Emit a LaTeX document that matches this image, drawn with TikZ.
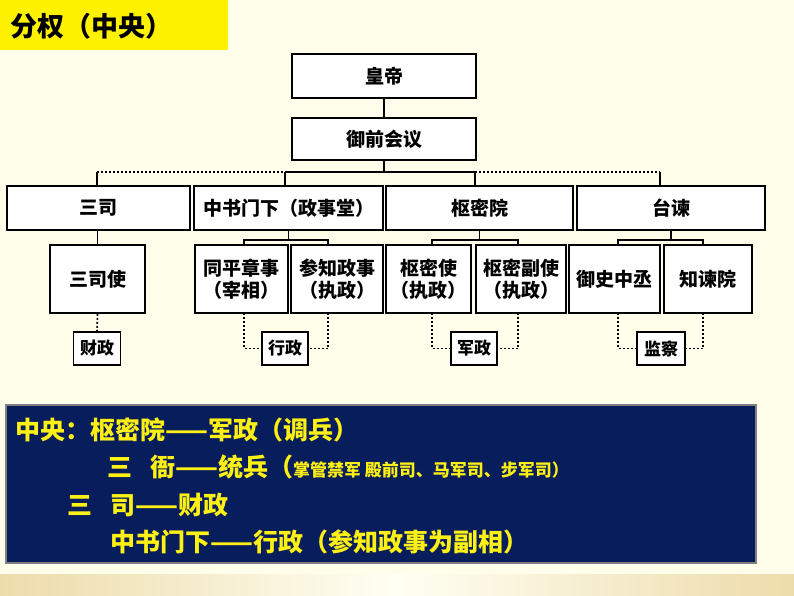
\documentclass[tikz,border=0pt]{standalone}
\usepackage{fontspec}
\setmainfont{Noto Sans CJK SC}
\begin{document}
\begin{tikzpicture}[x=1pt,y=-1pt,
  bx/.style={draw=black,line width=1.6pt,fill=white,inner sep=0pt,font=\fontsize{19}{22}\selectfont\bfseries,align=center},
  sm/.style={draw=black,line width=1.3pt,fill=white,inner sep=0pt,font=\fontsize{17}{20}\selectfont\bfseries},
  ln/.style={line width=1.4pt},
  dt/.style={line width=1.6pt,dash pattern=on 2pt off 2pt},
  yt/.style={text={rgb,255:red,255;green,240;blue,20},anchor=west,inner sep=0pt,font=\fontsize{25}{28}\selectfont\bfseries}]
\useasboundingbox (0,0) rectangle (794,596);
\fill[yellow!8!white] (0,0) rectangle (794,596);
\shade[left color=yellow!30!brown!40, right color=yellow!30!brown!40, middle color=yellow!5] (0,574) rectangle (794,596);
% title
\fill[yellow] (0,0) rectangle (228,50);
\node[anchor=west,inner sep=0pt,font=\fontsize{27}{30}\selectfont\bfseries] (title) at (10,26) {分权（中央）};
% top
\node[bx,minimum width=184pt,minimum height=44pt] (hd) at (384,76) {皇帝};
\node[bx,minimum width=184pt,minimum height=42pt] (yq) at (384,139) {御前会议};
\draw[ln] (hd) -- (yq);
% headers
\node[bx,minimum width=183pt,minimum height=44pt] (ss) at (98.5,208) {三司};
\node[bx,minimum width=189pt,minimum height=44pt] (zs) at (288.5,208) {中书门下（政事堂）};
\node[bx,minimum width=187pt,minimum height=44pt] (sm) at (479.5,208) {枢密院};
\node[bx,minimum width=188pt,minimum height=44pt] (tj) at (671,208) {台谏};
\coordinate (j0) at (384,172);
\coordinate (ja) at (97,172); \coordinate (jb) at (285,172);
\coordinate (jc) at (475,172); \coordinate (jd) at (660,172);
\draw[ln] (yq.south) -- (j0);
\draw[ln] (jb) -- (jc);
\draw[dt] (ja) -- (jb); \draw[dt] (jc) -- (jd);
\draw[ln] (ja) -- (ja|-ss.north);
\draw[ln] (jb) -- (jb|-zs.north);
\draw[ln] (jc) -- (jc|-sm.north);
\draw[ln] (jd) -- (jd|-tj.north);
% second level
\node[bx,minimum width=95pt,minimum height=68pt] (ssx) at (97.5,279) {三司使};
\node[bx,minimum width=93pt,minimum height=68pt] (tp) at (241.5,279) {同平章事\\（宰相）};
\node[bx,minimum width=92pt,minimum height=68pt] (cz) at (337,279) {参知政事\\（执政）};
\node[bx,minimum width=85pt,minimum height=68pt] (sms) at (428.5,279) {枢密使\\（执政）};
\node[bx,minimum width=90pt,minimum height=68pt] (smf) at (521,279) {枢密副使\\（执政）};
\node[bx,minimum width=91pt,minimum height=68pt] (ys) at (614.5,279) {御史中丞};
\node[bx,minimum width=88pt,minimum height=68pt] (zj) at (708,279) {知谏院};
\draw[ln] (ss.south-|ssx) -- (ssx.north);
\foreach \h/\xa/\xb in {zs/244/328, sm/432/518, tj/618/703}{
  \draw[ln] (\h.south) -- ++(0,10);
  \draw[ln] (\xa,245) -- (\xa,240) -- (\xb,240) -- (\xb,245);
}
% third level
\node[sm,minimum width=47pt,minimum height=33pt] (cai) at (97,348.5) {财政};
\node[sm,minimum width=46pt,minimum height=33pt] (xing) at (285,348.5) {行政};
\node[sm,minimum width=46pt,minimum height=33pt] (jun) at (474,348.5) {军政};
\node[sm,minimum width=48pt,minimum height=33pt] (jian) at (661,348.5) {监察};
\draw[dt] (ssx.south) -- (cai.north);
\draw[dt] (244,313) |- (xing.west); \draw[dt] (328,313) |- (xing.east);
\draw[dt] (432,313) |- (jun.west); \draw[dt] (518,313) |- (jun.east);
\draw[dt] (618,313) |- (jian.west); \draw[dt] (703,313) |- (jian.east);
% bottom panel
\node[draw=gray,line width=1.5pt,fill={rgb,255:red,8;green,30;blue,92},minimum width=750pt,minimum height=158pt,anchor=north west,inner sep=0pt] (panel) at (5,404) {};
\node[yt] (l1) at (15,430) {中央：枢密院——军政（调兵）};
\node[yt] (l2) at (107,467) {三\hspace{18pt}衙——统兵（{\fontsize{17}{20}\selectfont 掌管禁军 殿前司、马军司、步军司）}};
\node[yt] (l3) at (67,505) {三\hspace{18pt}司——财政};
\node[yt] (l4) at (110,542) {中书门下——行政（参知政事为副相）};
\end{tikzpicture}
\end{document}
